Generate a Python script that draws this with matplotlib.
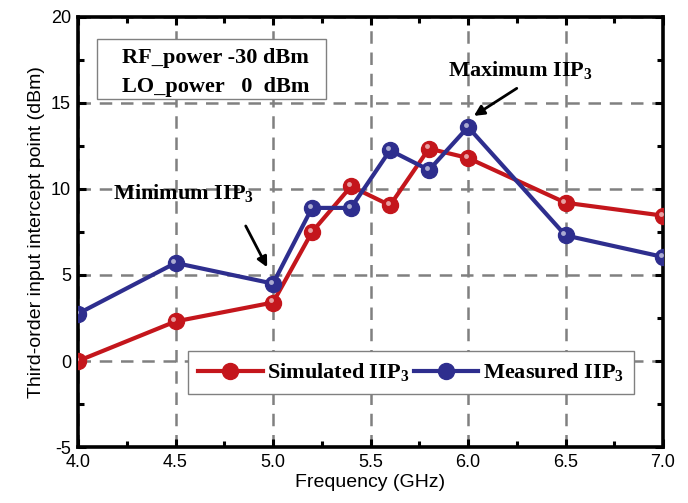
import matplotlib
matplotlib.use("Agg")
import matplotlib.pyplot as plt
from matplotlib.ticker import MultipleLocator, FormatStrFormatter
from matplotlib.transforms import ScaledTranslation
from matplotlib.patches import Rectangle

plt.rcParams['font.family'] = ['Liberation Sans', 'DejaVu Sans']
plt.rcParams['axes.unicode_minus'] = False
plt.rcParams['mathtext.fontset'] = 'custom'
plt.rcParams['mathtext.rm'] = 'Liberation Serif'
plt.rcParams['mathtext.bf'] = 'Liberation Serif:bold'

# Données IIP3 (dBm) en fonction de la fréquence (GHz)
freq = [4.0, 4.5, 5.0, 5.2, 5.4, 5.6, 5.8, 6.0, 6.5, 7.0]
iip3_sim = [0.0, 2.3, 3.4, 7.5, 10.15, 9.05, 12.35, 11.8, 9.2, 8.45]
iip3_mes = [2.75, 5.7, 4.5, 8.9, 8.9, 12.25, 11.1, 13.6, 7.3, 6.05]

rouge = '#C4161C'
bleu = '#2E2E8E'
serif = dict(family='Liberation Serif', weight='bold', size=16)
fleche = dict(arrowstyle='-|>', color='black', lw=2, mutation_scale=15,
              shrinkA=0, shrinkB=0)

fig = plt.figure(figsize=(6.88, 5.03), dpi=100)
ax = fig.add_axes([0.1134, 0.1113, 0.8503, 0.855])

l1, = ax.plot(freq, iip3_sim, '-o', color=rouge, lw=3, ms=11.5, zorder=3,
              label=r'Simulated IIP$_{\mathbf{3}}$')
l2, = ax.plot(freq, iip3_mes, '-o', color=bleu, lw=3, ms=11.5, zorder=4,
              label=r'Measured IIP$_{\mathbf{3}}$')

# petits reflets sur les marqueurs
decal = ax.transData + ScaledTranslation(-1.5 / 72, 1.5 / 72, fig.dpi_scale_trans)
ax.plot(freq, iip3_sim, 'o', color='white', ms=3.5, alpha=0.6, mec='none',
        transform=decal, zorder=3.5)
ax.plot(freq, iip3_mes, 'o', color='white', ms=3.5, alpha=0.6, mec='none',
        transform=decal, zorder=4.5)

ax.set_xlim(4.0, 7.0)
ax.set_ylim(-5, 20)
ax.xaxis.set_major_locator(MultipleLocator(0.5))
ax.xaxis.set_minor_locator(MultipleLocator(0.25))
ax.xaxis.set_major_formatter(FormatStrFormatter('%.1f'))
ax.yaxis.set_major_locator(MultipleLocator(5))
ax.yaxis.set_minor_locator(MultipleLocator(2.5))
ax.tick_params(which='both', direction='in', top=True, right=True, width=2.2,
               labelsize=13, pad=5)
ax.tick_params(which='major', length=6)
ax.tick_params(which='minor', length=4)
for s in ax.spines.values():
    s.set_linewidth(2.6)

ax.grid(True, which='major', color='#808080', ls=(0, (5, 3.5)), lw=1.8, zorder=1)

ax.set_xlabel('Frequency (GHz)', fontsize=14, labelpad=2)
ax.set_ylabel('Third-order input intercept point (dBm)', fontsize=14, labelpad=4)

# Cadre des conditions de mesure
ax.add_patch(Rectangle((0.0325, 0.809), 0.3915, 0.14, transform=ax.transAxes,
                       fc='white', ec='#808080', lw=1, zorder=5))
ax.text(0.075, 0.905, 'RF_power -30 dBm', transform=ax.transAxes,
        va='center', zorder=6, **serif)
ax.text(0.075, 0.837, 'LO_power   0  dBm', transform=ax.transAxes,
        va='center', zorder=6, **serif)

# Annotations min / max
ax.text(4.54, 9.7, r'Minimum IIP$_{\mathbf{3}}$', ha='center', va='center', **serif)
ax.annotate('', xy=(4.97, 5.45), xytext=(4.86, 7.85), arrowprops=fleche)
ax.text(6.27, 16.85, r'Maximum IIP$_{\mathbf{3}}$', ha='center', va='center', **serif)
ax.annotate('', xy=(6.03, 14.25), xytext=(6.25, 15.85), arrowprops=fleche)

leg = ax.legend(handles=[l1, l2], loc='center', bbox_to_anchor=(0.569, 0.173),
                ncol=2, fancybox=False, framealpha=1, edgecolor='#808080',
                handlelength=2.9, handletextpad=0.2, columnspacing=0.2,
                borderpad=0.45, prop=dict(family='Liberation Serif', weight='bold', size=16))
leg.get_frame().set_linewidth(1)
leg.set_zorder(6)

plt.savefig('out.png', dpi=100)
